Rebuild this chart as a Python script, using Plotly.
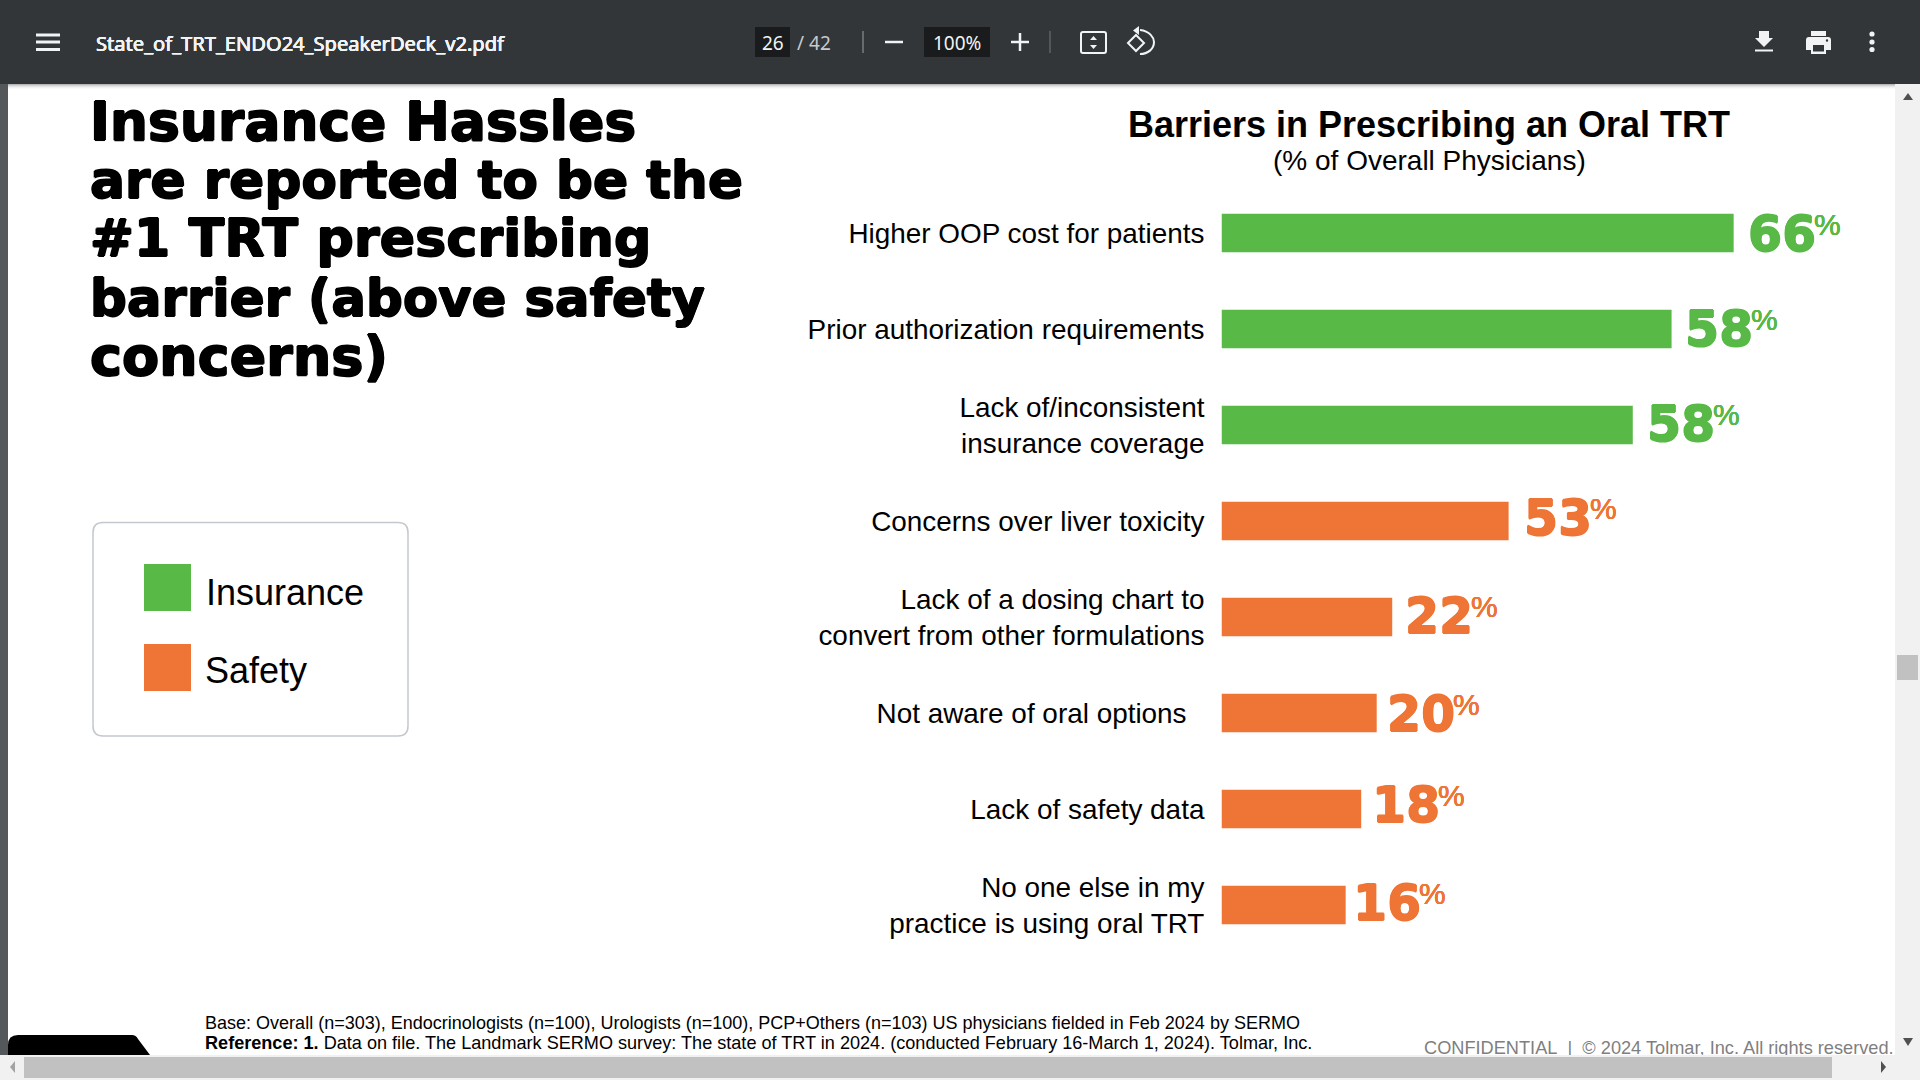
import plotly.graph_objects as go

# ---- data ----
categories = [
    "Higher OOP cost for patients",
    "Prior authorization requirements",
    "Lack of/inconsistent insurance coverage",
    "Concerns over liver toxicity",
    "Lack of a dosing chart to convert from other formulations",
    "Not aware of oral options",
    "Lack of safety data",
    "No one else in my practice is using oral TRT",
]
tick_labels = [
    "Higher OOP cost for patients",
    "Prior authorization requirements",
    "Lack of/inconsistent<br>insurance coverage",
    "Concerns over liver toxicity",
    "Lack of a dosing chart to<br>convert from other formulations",
    "Not aware of oral options\u00a0\u00a0\u200a",
    "Lack of safety data",
    "No one else in my<br>practice is using oral TRT",
]
# drawn bar lengths (the reference's 3rd and 4th bars are shorter than their printed labels)
bar_lengths = [66, 58, 53, 37, 22, 20, 18, 16]
printed_labels = [66, 58, 58, 53, 22, 20, 18, 16]
kinds = ["Insurance", "Insurance", "Insurance", "Safety", "Safety", "Safety", "Safety", "Safety"]
label_gaps = [12, 11, 12, 13, 11, 8, 9, 5]
label_lifts = [-2, 0, 1, 3, 1, -1, 4, 2]

title_lines = ["Insurance Hassles", "are reported to be the", "#1 TRT prescribing",
               "barrier (above safety", "concerns)"]
title_line_y = [121, 180, 237.5, 297.5, 356]
title_line_sizes = [53.5, 51.8, 52.4, 51.4, 54]

GREEN = "#58B947"
ORANGE = "#EE7535"
COLORS = {"Insurance": GREEN, "Safety": ORANGE}
BAR = "#323639"
SANS = "Liberation Sans"
HEAVY = "DejaVu Sans"
UI = "Noto Sans"
W, H = 1920, 1080

def thick(color, amount):
    return f"{amount}px 0 0 {color}, -{amount}px 0 0 {color}, 0 {amount}px 0 {color}, 0 -{amount}px 0 {color}"

fig = go.Figure()
for kind in ["Insurance", "Safety"]:
    fig.add_trace(go.Bar(
        name=kind, orientation="h",
        x=[v for v, k in zip(bar_lengths, kinds) if k == kind],
        y=[c for c, k in zip(categories, kinds) if k == kind],
        marker=dict(color=COLORS[kind], line=dict(width=0)),
        xaxis="x", yaxis="y", showlegend=False,
    ))

# text trace on the pixel axes so that the scrollbar can cover its descenders
fig.add_trace(go.Scatter(
    x=[1424], y=[1049], mode="text", xaxis="x2", yaxis="y2",
    text=["CONFIDENTIAL\u00a0 |\u00a0 \u00a9 2024 Tolmar, Inc. All rights reserved."],
    textposition="middle right", textfont=dict(family=SANS, size=18.2, color="#7F7F7F"),
    showlegend=False, hoverinfo="skip", cliponaxis=False,
))

shapes = []
def rect(x0, y0, x1, y1, fill, layer="above", line=None):
    shapes.append(dict(type="rect", xref="x2", yref="y2", x0=x0, y0=y0, x1=x1, y1=y1,
                       fillcolor=fill, line=line or dict(width=0), layer=layer))
def seg(x0, y0, x1, y1, color, width):
    shapes.append(dict(type="line", xref="x2", yref="y2", x0=x0, y0=y0, x1=x1, y1=y1,
                       line=dict(color=color, width=width), layer="above"))
def path(d, fill="rgba(0,0,0,0)", line=None, layer="above"):
    shapes.append(dict(type="path", xref="x2", yref="y2", path=d, fillcolor=fill,
                       line=line or dict(width=0), layer=layer))
def dot(cx, cy, r, fill):
    shapes.append(dict(type="circle", xref="x2", yref="y2", x0=cx-r, y0=cy-r, x1=cx+r, y1=cy+r,
                       fillcolor=fill, line=dict(width=0), layer="above"))

anns = []
def text(x, y, s, size, color="#000000", family=SANS, anchor="left", shadow=None):
    font = dict(family=family, size=size, color=color)
    if shadow:
        font["shadow"] = shadow
    anns.append(dict(xref="x2", yref="y2", x=x, y=y, text=s, showarrow=False, xanchor=anchor,
                     yanchor="middle", align=anchor, font=font))

# left page gutter, scrollbars
rect(0, 84, 8, 1080, "#54585B")
rect(1895, 84, W, H, "#F1F1F1")
rect(0, 1055, W, H, "#F1F1F1")
rect(24, 1057, 1832, 1078, "#C1C1C1")
rect(1897, 655, 1918, 680, "#C1C1C1")
path("M1903,100 L1908,93 L1913,100 Z", "#505050")
path("M1903,1038 L1913,1038 L1908,1046 Z", "#505050")
path("M10,1067 L15,1061 L15,1073 Z", "#A3A3A3")
path("M1881,1061 L1886,1067 L1881,1073 Z", "#505050")
path("M8,1055 L8,1045 Q8,1035 18,1035 L132,1035 Q136,1035 138,1039 L150,1055 Z", "#000000")

# toolbar
rect(0, 0, W, 84, BAR)
for i, a in enumerate([0.28, 0.18, 0.10, 0.05, 0.02]):
    rect(8, 84 + i, 1895, 85 + i, f"rgba(0,0,0,{a})")
for y in (35, 42, 49.5):
    seg(36, y, 60, y, "#F1F3F4", 3)
text(93.5, 43, "State_of_TRT_ENDO24_SpeakerDeck_v2.pdf", 20.1, "#F1F3F4", UI, shadow=thick("#F1F3F4", 0.25))
rect(755, 27, 790, 57, "#191B1C")
text(772.5, 43, "26", 19, "#F1F3F4", UI, "center")
text(795, 43, "/\u00a042", 19, "#C8CBCD", UI)
seg(863, 31, 863, 53, "#7A7E81", 1.5)
seg(885, 42, 903, 42, "#F1F3F4", 2.5)
rect(924, 27, 990, 57, "#191B1C")
text(957, 43, "100%", 19, "#F1F3F4", UI, "center")
seg(1011, 42, 1029, 42, "#F1F3F4", 2.5)
seg(1020, 33, 1020, 51, "#F1F3F4", 2.5)
seg(1050, 31, 1050, 53, "#6A6E71", 1.2)
path("M1083,32 L1104,32 Q1106,32 1106,34 L1106,51 Q1106,53 1104,53 L1083,53 Q1081,53 1081,51 "
     "L1081,34 Q1081,32 1083,32 Z", line=dict(color="#F1F3F4", width=2))
path("M1090,40 L1097,40 L1093.5,36 Z", "#F1F3F4")
path("M1090,45 L1097,45 L1093.5,49 Z", "#F1F3F4")
path("M1128,43 L1136,35 L1144,43 L1136,51 Z", line=dict(color="#F1F3F4", width=2))
path("M1140,30 C1150,31 1154,38 1154,42 C1154,49 1148,54 1140,54", line=dict(color="#F1F3F4", width=2))
path("M1139,26 L1139,35 L1133,30.5 Z", "#F1F3F4")
path("M1759,31 L1769,31 L1769,38 L1773,38 L1764,47 L1755,38 L1759,38 Z", "#F1F3F4")
seg(1755, 50.5, 1773, 50.5, "#F1F3F4", 2)
rect(1811, 31, 1826, 36, "#F1F3F4")
path("M1809,37 L1828,37 Q1831,37 1831,40 L1831,50 L1826,50 L1826,54 L1811,54 L1811,50 L1806,50 "
     "L1806,40 Q1806,37 1809,37 Z", "#F1F3F4")
rect(1813, 45, 1824, 51.5, BAR)
dot(1827, 40.5, 1.2, BAR)
for y in (34, 42, 49.5):
    dot(1872, y, 2.6, "#F1F3F4")

# slide title
for line, y, size in zip(title_lines, title_line_y, title_line_sizes):
    text(88, y, f"<b>{line}</b>", size, "#000000", HEAVY, shadow=thick("#000000", 0.9))

# legend box
path("M103,522.5 L398,522.5 Q408,522.5 408,532.5 L408,726 Q408,736 398,736 L103,736 Q93,736 93,726 "
     "L93,532.5 Q93,522.5 103,522.5 Z", "#FFFFFF", dict(color="#C3C7CE", width=1.5))
rect(144, 564, 191, 611, GREEN)
rect(144, 644, 191, 691, ORANGE)
text(203.5, 592.5, "Insurance", 36)
text(203, 670, "Safety", 36)

# subtitle and footers
text(1429, 160, "(% of Overall Physicians)", 28, anchor="center")
text(203, 1022.5, "Base: Overall (n=303), Endocrinologists (n=100), Urologists (n=100), PCP+Others (n=103) US "
     "physicians fielded in Feb 2024 by SERMO", 18.03)
text(203, 1042.5, "<b>Reference: 1.</b> Data on file. The Landmark SERMO survey: The state of TRT in 2024. "
     "(conducted February 16-March 1, 2024). Tolmar, Inc.", 18.1)

# value labels, anchored on the bars through the data axes
for cat, length, label, kind, gap, lift in zip(categories, bar_lengths, printed_labels, kinds, label_gaps, label_lifts):
    anns.append(dict(xref="x", yref="y", x=length, y=cat, text=f"<b>{label}</b>", showarrow=False,
                     xanchor="left", yanchor="middle", xshift=gap, yshift=lift,
                     font=dict(family=HEAVY, size=49, color=COLORS[kind], shadow=thick(COLORS[kind], 0.7))))
    anns.append(dict(xref="x", yref="y", x=length, y=cat, text="%", showarrow=False,
                     xanchor="left", yanchor="middle", xshift=gap + 66, yshift=lift + 10,
                     font=dict(family=SANS, size=30, color=COLORS[kind], shadow=thick(COLORS[kind], 0.12))))

px_per_unit = 7.76
bar_left, plot_right = 1221.5, 1895
row_top, row_bottom = 185, 953

fig.update_layout(
    width=W, height=H, margin=dict(l=0, r=0, t=0, b=0), autosize=False,
    paper_bgcolor="#FFFFFF", plot_bgcolor="rgba(0,0,0,0)",
    barmode="overlay", bargap=0.6,
    font=dict(family=SANS),
    title=dict(text="<b>Barriers in Prescribing an Oral TRT</b>", x=1429 / W, y=1 - 124 / H,
               xanchor="center", yanchor="middle", xref="paper", yref="paper",
               font=dict(family=SANS, size=36, color="#000000")),
    xaxis=dict(domain=[bar_left / W, plot_right / W], range=[0, (plot_right - bar_left) / px_per_unit],
               visible=False, fixedrange=True),
    yaxis=dict(domain=[1 - row_bottom / H, 1 - row_top / H], type="category",
               categoryorder="array", categoryarray=categories, autorange="reversed",
               tickmode="array", tickvals=categories, ticktext=tick_labels,
               ticks="outside", ticklen=10.5, tickcolor="rgba(0,0,0,0)", showline=False, showgrid=False,
               zeroline=False, tickfont=dict(family=SANS, size=27.9, color="#000000"), fixedrange=True),
    xaxis2=dict(domain=[0, 1], range=[0, W], visible=False, anchor="y2", fixedrange=True),
    yaxis2=dict(domain=[0, 1], range=[H, 0], visible=False, anchor="x2", fixedrange=True),
    shapes=shapes, annotations=anns,
)

fig.write_html("out.html", config=dict(displayModeBar=False),
               post_script="document.body.style.margin='0';document.body.style.overflow='hidden';")
